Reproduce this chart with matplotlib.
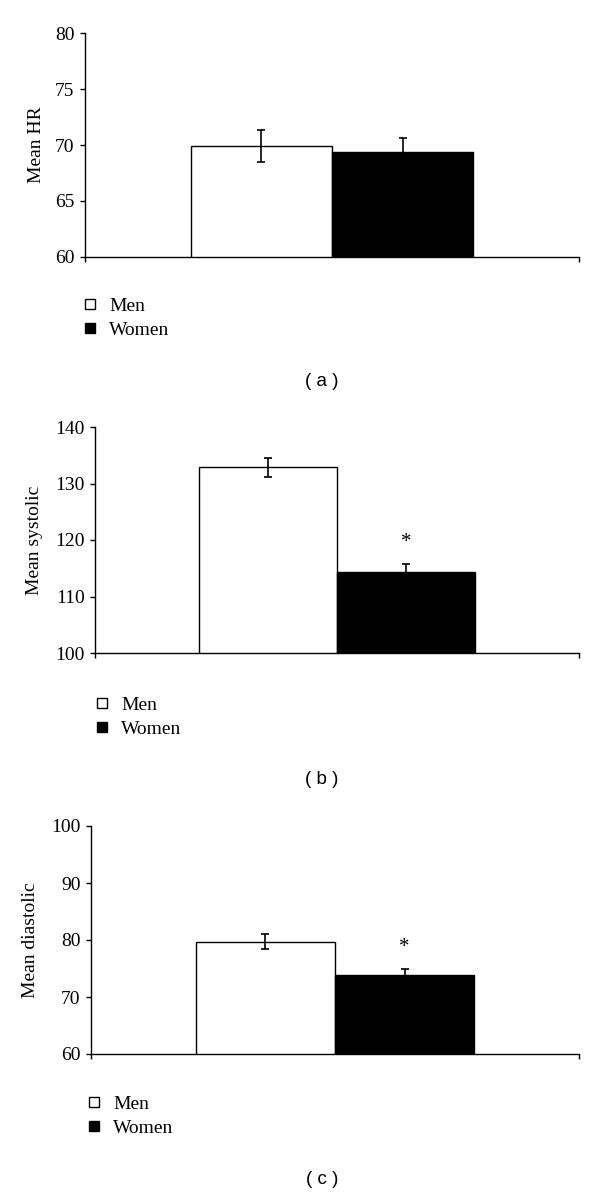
import matplotlib
matplotlib.use("Agg")
import matplotlib.pyplot as plt
from matplotlib.lines import Line2D

plt.rcParams['font.family'] = ['Liberation Serif', 'DejaVu Serif']

# ---------------- data ----------------
groups = ["Men", "Women"]
panel_labels = ["( a )", "( b )", "( c )"]
ylabels = ["Mean HR", "Mean systolic", "Mean diastolic"]

hr_means = [69.9, 69.4]
hr_errs = [1.4, 1.2]
sys_means = [132.9, 114.3]
sys_errs = [1.7, 1.4]
dia_means = [79.7, 73.9]
dia_errs = [1.35, 1.0]

ylims = [(60, 80), (100, 140), (60, 100)]
yticks = [[60, 65, 70, 75, 80], [100, 110, 120, 130, 140], [60, 70, 80, 90, 100]]
significant = [[False, False], [False, True], [False, True]]

means_all = [hr_means, sys_means, dia_means]
errs_all = [hr_errs, sys_errs, dia_errs]

colors = ["white", "black"]

# ---------------- layout (pixels) ----------------
W, H = 600, 1193
fig = plt.figure(figsize=(W / 100, H / 100), dpi=100)

# (left, top, right, bottom) in pixels
axes_px = [(85, 33, 579, 257), (95, 427, 579, 653), (91, 826, 579, 1054)]
legend_px = [(82, 297), (94, 696), (86, 1095)]
caption_px = [(322, 382), (322, 779), (322, 1179)]
labelpads = [7, 9, 9]

xpos = [-0.5, 0.5]

for i in range(3):
    l, t, r, b = axes_px[i]
    ax = fig.add_axes([l / W, 1 - b / H, (r - l) / W, (b - t) / H])
    ax.bar(xpos, means_all[i], width=1.0, color=colors,
           edgecolor="black", linewidth=1.0, zorder=2)
    ax.errorbar(xpos, means_all[i], yerr=errs_all[i], fmt="none",
                ecolor="black", elinewidth=1.2, capsize=3.2, capthick=1.2, zorder=3)
    for j in range(2):
        if significant[i][j]:
            ax.annotate("*", xy=(xpos[j], means_all[i][j] + errs_all[i][j]),
                        xytext=(0, 9), textcoords="offset points",
                        ha="center", va="bottom", fontsize=15)
    ax.set_xlim(-1.75, 1.75)
    ax.set_ylim(*ylims[i])
    ax.set_yticks(yticks[i])
    ax.set_xticks([-1.75, 1.75])
    ax.set_xticklabels([])
    ax.tick_params(axis="y", direction="out", length=3.5, width=1.0, pad=4,
                   labelsize=14)
    ax.tick_params(axis="x", direction="out", length=3.5, width=1.0)
    for s in ["top", "right"]:
        ax.spines[s].set_visible(False)
    for s in ["left", "bottom"]:
        ax.spines[s].set_linewidth(1.0)
    ax.set_ylabel(ylabels[i], fontsize=14, labelpad=labelpads[i])

    handles = [Line2D([], [], marker="s", linestyle="none", markersize=7,
                      markerfacecolor=c, markeredgecolor="black",
                      markeredgewidth=1.0) for c in colors]
    lx, ly = legend_px[i]
    fig.legend(handles, groups, loc="upper left",
               bbox_to_anchor=(lx / W, 1 - ly / H), frameon=False,
               fontsize=14, handlelength=0.8, handletextpad=0.6,
               labelspacing=0.35, borderpad=0, borderaxespad=0)

    cx, cy = caption_px[i]
    fig.text(cx / W, 1 - cy / H, panel_labels[i], ha="center", va="center",
             fontsize=13.5, family=["Liberation Sans", "DejaVu Sans"])

fig.savefig("out.png", dpi=100)
